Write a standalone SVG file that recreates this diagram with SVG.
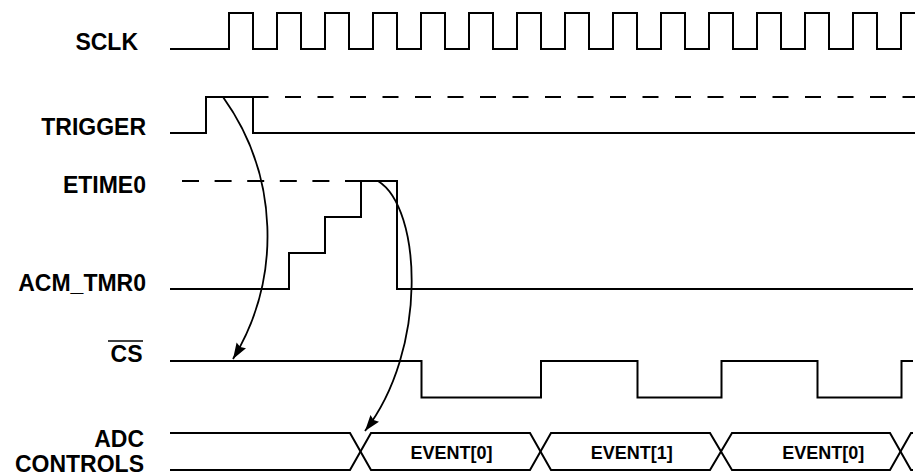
<svg xmlns="http://www.w3.org/2000/svg" width="915" height="474" viewBox="0 0 915 474">
<style>
.w{fill:none;stroke:#000;stroke-width:2}
.dt{stroke-dasharray:16 16.5}
.de{stroke-dasharray:17 15.6}
.c{fill:none;stroke:#000;stroke-width:1.8}
.lbl{font-family:"Liberation Sans",Arial,sans-serif;font-weight:bold;font-size:23px;fill:#000;text-anchor:end}
.ev{font-family:"Liberation Sans",Arial,sans-serif;font-weight:bold;font-size:18px;fill:#000;text-anchor:middle}
</style>
<defs>
<marker id="ah" markerWidth="18" markerHeight="12" refX="16" refY="5.5" orient="auto" markerUnits="userSpaceOnUse">
<path d="M0,0 L16,5.5 L0,11 L2,5.5 z" fill="#000"/>
</marker>
</defs>
<rect width="915" height="474" fill="#fff"/>
<g id="sclk">
<text class="lbl" x="138" y="50">SCLK</text>
<path class="w" d="M170,49 H229V13H253V49 H277V13H301V49 H325V13H349V49 H373V13H397V49 H421V13H445V49 H469V13H493V49 H517V13H541V49 H565V13H589V49 H613V13H637V49 H661V13H685V49 H709V13H733V49 H757V13H781V49 H805V13H829V49 H853V13H877V49 H901V13H915"/>
</g>
<g id="trigger">
<text class="lbl" x="146" y="135">TRIGGER</text>
<path class="w" d="M170,133 H206 V97 H253 V133 H915"/>
<path class="w dt" d="M252.5,97 H915"/>
</g>
<g id="etime0">
<text class="lbl" x="146" y="193">ETIME0</text>
<path class="w de" d="M182,181 H361"/>
</g>
<g id="acm_tmr0">
<text class="lbl" x="146" y="291">ACM_TMR0</text>
<path class="w" d="M170,289 H289 V253 H325 V217 H361 V181 H397 V289 H913"/>
</g>
<g id="cs">
<text class="lbl" x="142.5" y="362">CS</text>
<line x1="108" y1="341" x2="143" y2="341" stroke="#000" stroke-width="1.6"/>
<path class="w" d="M170,361 H421.5 V397.5 H541 V361 H637.5 V397.5 H721.5 V361 H817.5 V397.5 H901.5 V361 H913"/>
</g>
<g id="adc_controls">
<text class="lbl" x="144" y="446.5">ADC</text>
<text class="lbl" x="144" y="472">CONTROLS</text>
<path class="w" d="M170,433 H350 L371,470 H530 L551,433 H710 L732,470 H890 L911,433 H913"/>
<path class="w" d="M170,470 H350 L371,433 H530 L551,470 H710 L732,433 H890 L911,470 H913"/>
<text class="ev" x="451.5" y="459">EVENT[0]</text>
<text class="ev" x="631.7" y="459">EVENT[1]</text>
<text class="ev" x="823.3" y="459">EVENT[0]</text>
</g>
<g id="connectors">
<path class="c" d="M223,97 A238,238 0 0 1 233,359" marker-end="url(#ah)"/>
<path class="c" d="M378,181 C422,208 428,350 365,431" marker-end="url(#ah)"/>
</g>
</svg>
